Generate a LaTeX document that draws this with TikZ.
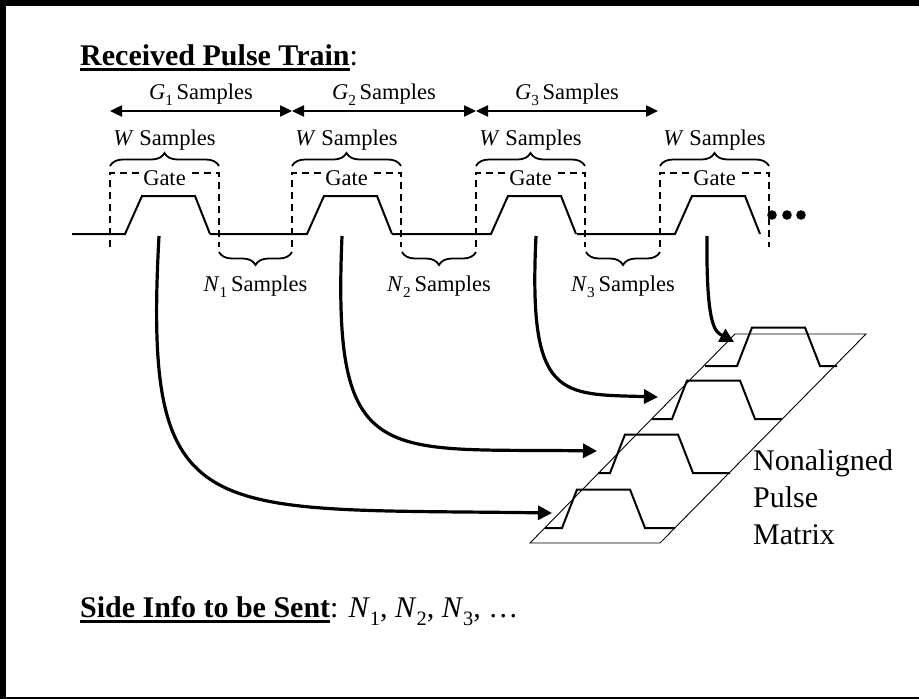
\documentclass[tikz,border=0pt]{standalone}
\usepackage{fontspec}
\setmainfont{Liberation Serif}
\usetikzlibrary{arrows.meta, decorations.pathreplacing}

\newcommand{\sub}[1]{\raisebox{-0.28em}{\scalebox{0.68}{#1}}}
\newcommand{\uln}[1]{\sbox0{#1}\rlap{\rule[-5.5pt]{\wd0}{3pt}}\usebox0}

\begin{document}
\begin{tikzpicture}[x=1pt, y=-1pt,
    lbl/.style={font=\fontsize{22.5}{27}\selectfont, inner sep=0pt},
    big/.style={font=\fontsize{30}{37}\selectfont, inner sep=0pt, align=left},
    pulse/.style={line width=2pt},
    gatebox/.style={line width=2pt, dash pattern=on 7pt off 5pt},
    brc/.style={line width=1.8pt, decorate, decoration={brace, amplitude=13pt}},
    span/.style={line width=2.4pt, {Triangle[length=12pt, width=11pt]}-{Triangle[length=12pt, width=11pt]}},
    feed/.style={line width=3.2pt, -{Triangle[length=14pt, width=14pt]}},
    mat/.style={line width=0.9pt}]
    \useasboundingbox (0,0) rectangle (919,699);
    \draw [line width=6pt] (3,3) rectangle (935,699.5);

    \node [big, anchor=base west] (title) at (80,65) {\uln{\textbf{Received Pulse Train}}:};

    \foreach \g/\s [count=\i] in {110/72, 292/210, 476/392, 660/577} {
        \draw [pulse] (\s,234) -- (\g+15,234) -- (\g+32,196) -- (\g+85,196) -- (\g+100,234);
        \draw [gatebox] (\g,247) -- (\g,173) -- (\g+109,173) -- (\g+109,247);
        \node [lbl, fill=white, inner xsep=2pt] (gate\i) at (\g+54.5,178) {Gate};
        \draw [brc] (\g,166) -- (\g+109,166);
        \node [lbl] (w\i) at (\g+54.5,140) {\textit{W} Samples};
        \coordinate (gl\i) at (\g,111);
    }
    \coordinate (gl4) at (658,111);

    \foreach \a/\b/\i in {219/292/1, 402/476/2, 586/660/3} {
        \draw [brc] (\b,252) -- (\a,252);
        \node [lbl] (n\i) at ({(\a+\b)/2},287) {\textit{N}\sub{\i}\,Samples};
    }

    \draw [span] (gl1) -- node [lbl, above=4pt] (g1) {\textit{G}\sub{1}\,Samples} (gl2);
    \draw [span] (gl2) -- node [lbl, above=4pt] (g2) {\textit{G}\sub{2}\,Samples} (gl3);
    \draw [span] (gl3) -- node [lbl, above=4pt] (g3) {\textit{G}\sub{3}\,Samples} (gl4);

    \foreach \x in {772,787,801}
        \fill (\x,215) circle (4.8pt);

    \draw [mat] (530,543) -- (660,543) -- (866,334) -- (735,334) -- cycle;
    \foreach \y/\l/\r/\e in {366/705/737/837, 419/652/672/782, 473/598/610/730, 528/545/562/675}
        \draw [pulse] (\l,\y) -- (\r,\y) -- (\r+15,\y-38.5) -- (\r+68,\y-38.5) -- (\r+83,\y) -- (\e,\y);

    \node [big, anchor=west] (matrix) at (753,497) {Nonaligned\\Pulse\\Matrix};

    \coordinate (src1) at (159,236);
    \coordinate (src2) at (342,236);
    \coordinate (src3) at (536,236);
    \coordinate (src4) at (707,236);
    \coordinate (row1) at (734,342);
    \coordinate (row2) at (658,397);
    \coordinate (row3) at (597,451);
    \coordinate (row4) at (552,513);

    \draw [feed] (src1) .. controls (143,530) and (200,508) .. (row4);
    \draw [feed] (src2) .. controls (332,470) and (380,448) .. (row3);
    \draw [feed] (src3) .. controls (528,400) and (560,394) .. (row2);
    \draw [feed] (src4) .. controls (706,330) and (716,332) .. (row1);

    \node [big, anchor=base west] (side) at (80,617) {\uln{\textbf{Side Info to be Sent}}: \textit{N}\sub{1}, \textit{N}\sub{2}, \textit{N}\sub{3}, \ldots};
\end{tikzpicture}
\end{document}
